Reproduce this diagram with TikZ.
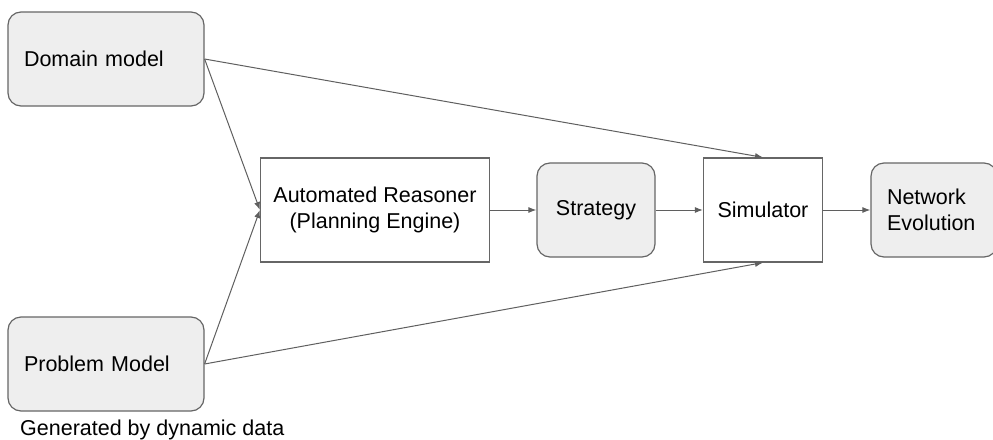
\documentclass[tikz,border=0pt]{standalone}
\usepackage{fontspec}
\setmainfont{Liberation Sans}
\usetikzlibrary{arrows.meta}
\definecolor{boxfill}{HTML}{EEEEEE}
\definecolor{edge}{HTML}{666666}
\definecolor{arr}{HTML}{5F5F5F}
\tikzset{
  gbox/.style={draw=edge, line width=1.2pt, fill=boxfill, rounded corners=13pt, inner sep=0pt},
  wbox/.style={draw=edge, line width=1.2pt, fill=white, inner sep=0pt},
  lbl/.style={font=\fontsize{21.5pt}{26pt}\selectfont},
  conn/.style={draw=arr, line width=1pt, -{Latex[length=8pt,width=6pt]}},
}
\begin{document}
\begin{tikzpicture}[x=1pt,y=-1pt]
\useasboundingbox (0,0) rectangle (993,439);
\node[gbox, lbl, minimum width=196pt, minimum height=94pt, text width=164pt, align=left] (dom) at (106,59) {Domain model};
\node[gbox, lbl, minimum width=196pt, minimum height=94pt, text width=164pt, align=left] (prob) at (106,364) {Problem Model};
\node[wbox, lbl, minimum width=229pt, minimum height=104pt, align=center] (ar) at (375,210) {Automated Reasoner\\(Planning Engine)};
\node[gbox, lbl, minimum width=118pt, minimum height=94pt, align=center] (strat) at (596,210) {Strategy};
\node[wbox, lbl, minimum width=119pt, minimum height=104pt, align=center] (sim) at (763,210) {Simulator};
\node[gbox, lbl, minimum width=126pt, minimum height=94pt, text width=94pt, align=left] (net) at (934,210) {Network\\Evolution};
\node[lbl, anchor=base west, inner sep=0pt] (gen) at (20,435) {Generated by dynamic data};
\draw[conn] (dom.east) -- (ar.west);
\draw[conn] (prob.east) -- (ar.west);
\draw[conn] (dom.east) -- (sim.north);
\draw[conn] (prob.east) -- (sim.south);
\draw[conn] (ar.east) -- (strat.west);
\draw[conn] (strat.east) -- (sim.west);
\draw[conn] (sim.east) -- (net.west);
\end{tikzpicture}
\end{document}
